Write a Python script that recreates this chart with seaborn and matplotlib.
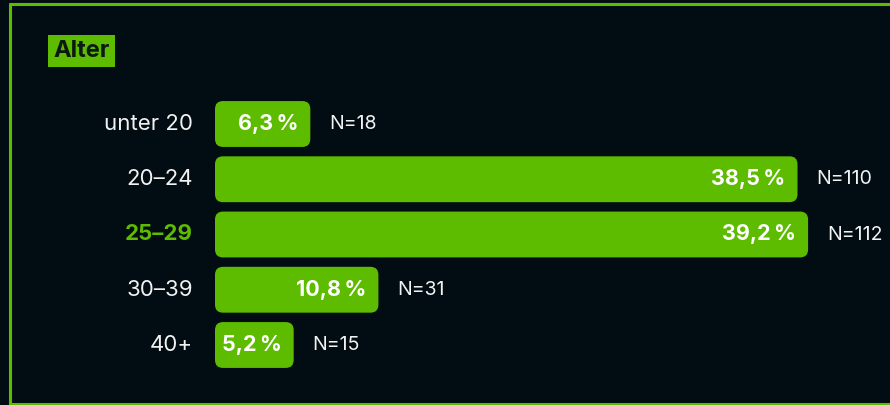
import matplotlib
matplotlib.use("Agg")
import matplotlib.pyplot as plt
import seaborn as sns
import pandas as pd
from matplotlib.patches import FancyBboxPatch
from matplotlib.lines import Line2D

categories = ["unter 20", "20–24", "25–29", "30–39", "40+"]
percents = [6.3, 38.5, 39.2, 10.8, 5.2]
counts = [18, 110, 112, 31, 15]
highlight = "25–29"
title = "Alter"

BG = "#020d13"
GREEN = "#5dbb00"
WHITE = "#f2f2f2"

sns.set_theme(style="white")
plt.rcParams["font.family"] = ["Inter", "DejaVu Sans"]

W, H = 890, 405
fig = plt.figure(figsize=(W / 100, H / 100), dpi=100, facecolor=BG)

px_per_pct = 15.13
ax_left_px = 215
ax_w_px = 670
row_px = 55.25
top_px = 124 - row_px / 2
ax = fig.add_axes([ax_left_px / W, 1 - (top_px + 5 * row_px) / H, ax_w_px / W, 5 * row_px / H])
ax.set_facecolor(BG)

df = pd.DataFrame({"cat": categories, "pct": percents, "n": counts})
sns.barplot(data=df, x="pct", y="cat", orient="h", color=GREEN, width=0.83,
            saturation=1, ax=ax)
ax.set_xlim(0, ax_w_px / px_per_pct)
ax.set_ylim(4.5, -0.5)
for s in ax.spines.values():
    s.set_visible(False)
ax.set_xticks([])
ax.set_yticks([])
ax.set_xlabel("")
ax.set_ylabel("")

r_px = 8
aspect = (1 / row_px) / (1 / px_per_pct)
for p in list(ax.patches):
    x, y = p.get_x(), p.get_y()
    w, h = p.get_width(), p.get_height()
    p.remove()
    fb = FancyBboxPatch((x, y), w, h,
                        boxstyle=f"round,pad=0,rounding_size={r_px / px_per_pct}",
                        mutation_aspect=aspect, facecolor=GREEN, edgecolor="none")
    ax.add_patch(fb)

for i, (c, v, n) in enumerate(zip(categories, percents, counts)):
    ax.text(v - 12 / px_per_pct, i, f"{v:.1f}\u2009%".replace(".", ","), ha="right",
            va="center", color="white", fontsize=15.5, fontweight="bold")
    ax.text(v + 19 / px_per_pct, i, f"N={n}", ha="left", va="center",
            color=WHITE, fontsize=14)
    is_h = c == highlight
    ax.text(-22 / px_per_pct, i, c, ha="right", va="center",
            color=GREEN if is_h else WHITE, fontsize=16,
            fontweight="bold" if is_h else "normal")

fig.text(53 / W, 1 - 51 / H, title, ha="left", va="center", fontsize=17,
         fontweight="bold", color="#0b1a10",
         bbox=dict(boxstyle="square,pad=0.22", facecolor=GREEN, edgecolor="none"))

lw = 2.2
fig.add_artist(Line2D([10 / W, 10 / W], [1 - 4 / H, 1 - 404 / H], color=GREEN, lw=lw,
                      transform=fig.transFigure))
fig.add_artist(Line2D([10 / W, 1.0], [1 - 4 / H, 1 - 4 / H], color=GREEN, lw=lw,
                      transform=fig.transFigure))
fig.add_artist(Line2D([10 / W, 1.0], [1 - 404 / H, 1 - 404 / H], color=GREEN, lw=lw,
                      transform=fig.transFigure))

fig.savefig("out.png", dpi=100, facecolor=BG)
